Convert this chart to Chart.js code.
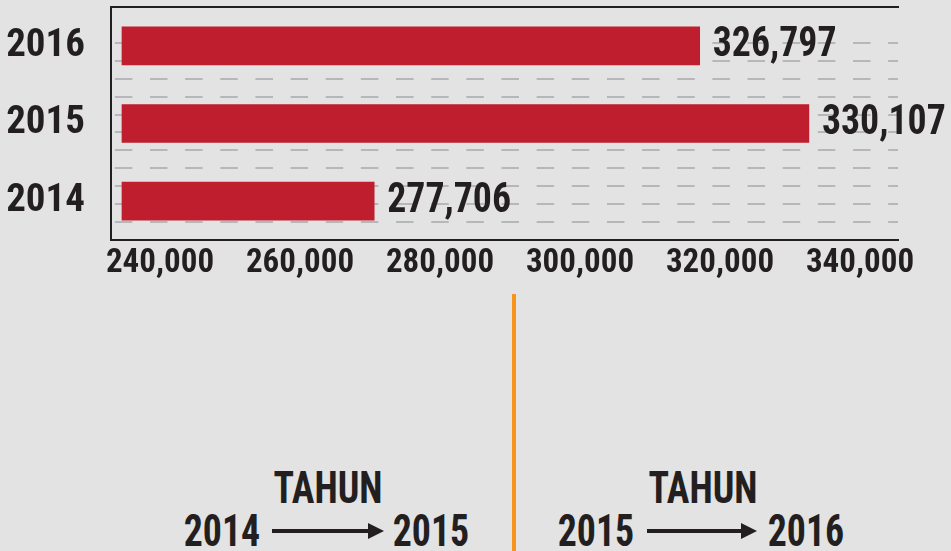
<!DOCTYPE html>
<html>
<head>
<meta charset="utf-8">
<script src="https://cdn.jsdelivr.net/npm/chart.js@4.4.0/dist/chart.umd.min.js"></script>
<style>
  html, body { margin: 0; padding: 0; background: #e3e3e3; }
  .page {
    position: relative; width: 951px; height: 551px; overflow: hidden;
    font-family: 'Roboto Condensed', 'Open Sans Condensed', sans-serif;
    font-weight: bold; color: #231f20;
  }
  #chart { position: absolute; left: 0; top: 0; }
  .txt {
    position: absolute; font-size: 44px; line-height: 44px; white-space: nowrap;
    transform: translateX(-50%) scaleX(0.86);
  }
  .divider { position: absolute; left: 512px; top: 294px; width: 4px; height: 257px; background: #f7941d; }
  svg { position: absolute; left: 0; top: 0; }
</style>
</head>
<body>
<div class="page">
  <canvas id="chart" width="951" height="290"></canvas>

  <div class="divider"></div>

  <div class="txt" style="left:328px; top:466px;">TAHUN</div>
  <div class="txt" style="left:222px; top:509px;">2014</div>
  <div class="txt" style="left:431px; top:509px;">2015</div>

  <div class="txt" style="left:703px; top:466px;">TAHUN</div>
  <div class="txt" style="left:596px; top:509px;">2015</div>
  <div class="txt" style="left:806px; top:509px;">2016</div>

  <svg width="951" height="551">
    <rect x="272" y="529" width="98" height="4" fill="#231f20"/>
    <polygon points="368,523 384,531 368,539" fill="#231f20"/>
    <rect x="647" y="529" width="96" height="4" fill="#231f20"/>
    <polygon points="741,523 757,531 741,539" fill="#231f20"/>
  </svg>
</div>

<script>
const FONT = "'Roboto Condensed', 'Open Sans Condensed', sans-serif";
const INK = '#231f20';

const years = ['2016', '2015', '2014'];
// bar ends as drawn in the source graphic, read against its axis
const barValues = [317100, 332700, 270600];
// the printed numbers next to each bar
const valueLabels = ['326,797', '330,107', '277,706'];
const xTicks = [240000, 260000, 280000, 300000, 320000, 340000];
const xMin = 233000;
const xMax = 345430;
const barStart = 234570;

// writes the number at the end of each bar (squeezed a bit, the source font is narrow)
const valueLabelPlugin = {
  id: 'valueLabels',
  afterDatasetsDraw(chart) {
    const ctx = chart.ctx;
    const meta = chart.getDatasetMeta(0);
    meta.data.forEach((bar, i) => {
      ctx.save();
      ctx.translate(bar.x + 13, bar.y);
      ctx.scale(0.9, 1);
      ctx.font = 'bold 42px ' + FONT;
      ctx.fillStyle = INK;
      ctx.textBaseline = 'middle';
      ctx.textAlign = 'left';
      ctx.fillText(valueLabels[i], 0, 0);
      ctx.restore();
    });
  }
};

new Chart(document.getElementById('chart'), {
  type: 'bar',
  data: {
    labels: years,
    datasets: [{
      data: barValues,
      base: barStart,
      backgroundColor: '#be1e2d',
      barThickness: 38,
      borderSkipped: false
    }]
  },
  options: {
    indexAxis: 'y',
    responsive: false,
    animation: false,
    devicePixelRatio: 1,
    layout: { padding: { top: 7, right: 53, left: 0, bottom: 0 } },
    plugins: {
      legend: { display: false },
      tooltip: { enabled: false }
    },
    scales: {
      x: {
        type: 'linear',
        min: xMin,
        max: xMax,
        afterBuildTicks: (s) => { s.ticks = xTicks.map((v) => ({ value: v })); },
        afterFit: (s) => { s.height = 50; s.paddingLeft = 0; s.paddingRight = 0; },
        grid: { display: false, drawTicks: false },
        border: { display: true, color: INK, width: 2 },
        ticks: {
          padding: 4,
          color: INK,
          autoSkip: false,
          maxRotation: 0,
          font: { family: FONT, size: 33, weight: 'bold' },
          callback: (v) => v.toLocaleString('en-US')
        }
      },
      xTop: {
        type: 'linear',
        position: 'top',
        min: xMin,
        max: xMax,
        afterFit: (s) => { s.height = 0; s.paddingLeft = 0; s.paddingRight = 0; },
        ticks: { display: false },
        grid: { display: false, drawTicks: false },
        border: { display: true, color: INK, width: 2 }
      },
      y: {
        afterFit: (s) => { s.width = 111; s.paddingTop = 0; s.paddingBottom = 0; },
        grid: { display: false, drawTicks: false },
        border: { display: true, color: INK, width: 2 },
        ticks: {
          padding: 26,
          color: INK,
          font: { family: FONT, size: 39, weight: 'bold' }
        }
      },
      rows: {
        type: 'linear',
        position: 'right',
        min: 0,
        max: 12,
        afterFit: (s) => { s.width = 0; s.paddingTop = 0; s.paddingBottom = 0; },
        ticks: { display: false, stepSize: 1 },
        border: { display: false, dash: [17.5, 17.65], dashOffset: 31.3 },
        grid: {
          drawTicks: false,
          lineWidth: 2,
          color: (c) => {
            if (!c.tick || c.tick.value <= 0 || c.tick.value >= 12) return 'rgba(0,0,0,0)';
            return '#b7b7bb';
          }
        }
      }
    }
  },
  plugins: [valueLabelPlugin]
});
</script>
</body>
</html>
